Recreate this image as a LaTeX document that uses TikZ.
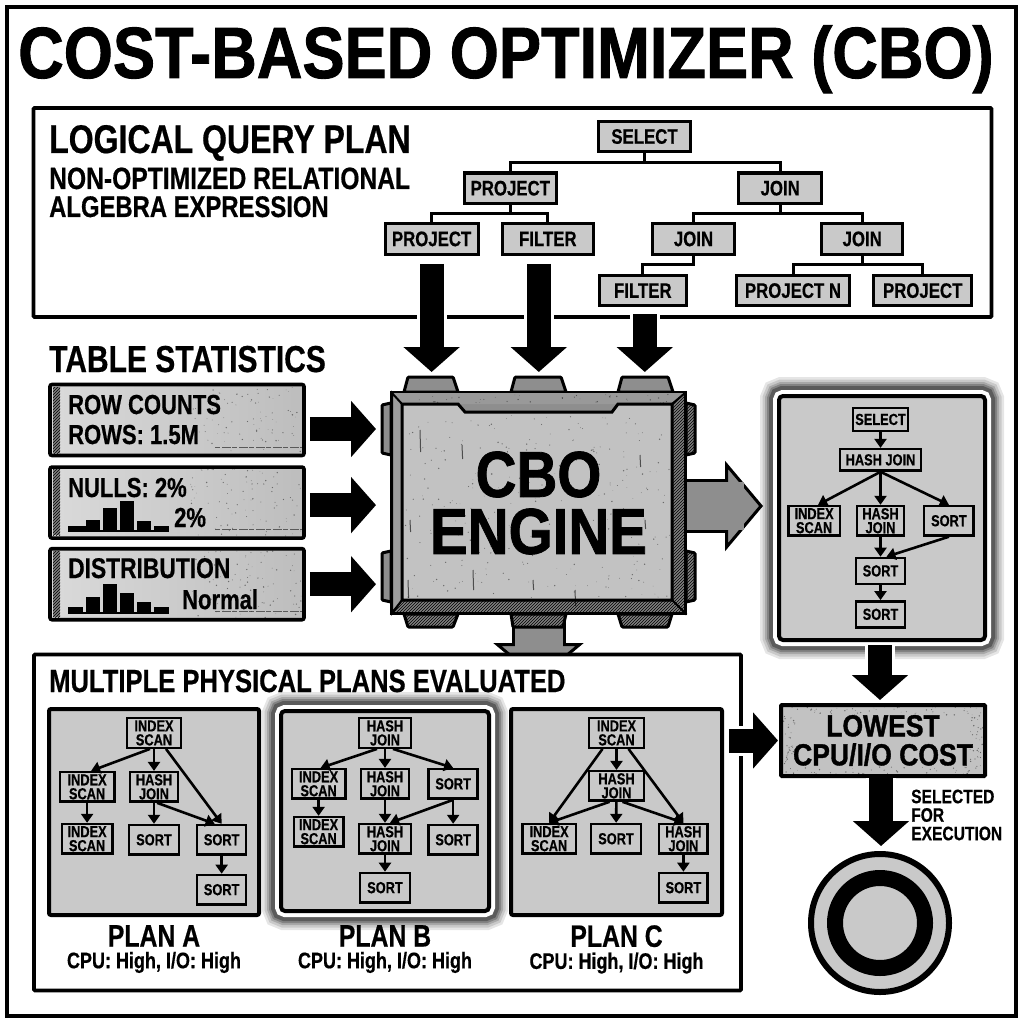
\documentclass[tikz,border=0pt]{standalone}
\usepackage{fontspec}
\setmainfont{Liberation Sans}[FakeStretch=0.8,BoldFeatures={FakeBold=0.5}]
\newfontfamily\heavyfont{Liberation Sans Bold}[FakeStretch=0.87,FakeBold=1.2]
\usetikzlibrary{arrows.meta, positioning, patterns}
\newcommand{\sized}[1]{\fontsize{#1}{#1}\selectfont\bfseries}
\newcommand{\speckle}[5]{%
  \foreach \i in {1,...,#5}{%
    \pgfmathsetmacro{\sx}{#1+rnd*(#3-#1)}%
    \pgfmathsetmacro{\sy}{#2+rnd*(#4-#2)}%
    \pgfmathsetmacro{\sr}{0.25+rnd*0.55}%
    \fill[black,fill opacity=0.45] (\sx,\sy) circle (\sr);
  }}

\begin{document}
\begin{tikzpicture}[
    x=1pt, y=-1pt,
    treebox/.style={rectangle, draw, line width=3.2pt, fill=boxgray, inner sep=0pt, minimum height=30.5pt, font=\sized{21}},
    opbox/.style={rectangle, draw, line width=2.4pt, fill=boxgray, inner sep=0pt, align=center, minimum height=29.5pt, font=\fontsize{16}{14}\selectfont\bfseries},
    planframe/.style={rectangle, draw, line width=4pt, fill=boxgray, rounded corners=2pt},
    glowing/.style={planframe, rounded corners=4pt,
        preaction={draw=black, draw opacity=.10, line width=38pt},
        preaction={draw=black, draw opacity=.12, line width=33pt},
        preaction={draw=black, draw opacity=.16, line width=28pt},
        preaction={draw=black, draw opacity=.22, line width=24pt},
        preaction={draw=black, draw opacity=.30, line width=20pt},
        preaction={draw=white, line width=12pt}},
    panel/.style={rectangle, draw, line width=3.6pt, fill=white, rounded corners=1pt},
    statbox/.style={rectangle, draw, line width=3.6pt, rounded corners=2pt, left color=boxlight, right color=boxdark, minimum width=254pt, minimum height=71pt},
    heading/.style={anchor=base west, inner sep=0pt},
    flow/.style={-{Triangle[length=9pt,width=12pt]}, line width=2.6pt},
    tree/.style={line width=3pt},
    bigarrow/.style={-{Triangle[length=25pt,width=55pt]}, line width=24pt, preaction={draw=white, line width=30pt, -}},
    greyarrow/.style={-{Triangle[length=38pt,width=90pt,fill=arrowgray,line width=3pt]}, draw=black, line width=3pt,
        preaction={draw=black, line width=54pt, -, shorten >=37pt},
        postaction={draw=arrowgray, line width=48pt, -, shorten >=33pt}},
    lug/.style={draw, line width=3pt, fill=arrowgray, rounded corners=1pt},
    hatched/.style={fill=black!50, postaction={pattern=north east lines, pattern color=black}},
    bar/.style={fill=black}
]
    \definecolor{boxgray}{HTML}{C9C9C9}
    \definecolor{boxlight}{HTML}{DADADA}
    \definecolor{boxdark}{HTML}{BDBDBD}
    \definecolor{arrowgray}{HTML}{8E8E8E}
    \definecolor{facegray}{HTML}{C2C2C2}
    \pgfmathsetseed{11}
    \useasboundingbox (0,0) rectangle (1024,1024);
    \fill[white] (0,0) rectangle (1024,1024);

    % Title and outer frame
    \node[draw, line width=4pt, minimum width=1009pt, minimum height=1009pt, inner sep=0pt] (page) at (511.5,511.5) {};
    \node[heading, font=\heavyfont\fontsize{72.6}{72.6}\selectfont] (title) at (18,78) {COST-BASED OPTIMIZER (CBO)};

    % Logical query plan
    \node[panel, minimum width=958pt, minimum height=209pt] (logical) at (512.5,212.5) {};
    \node[heading, font=\sized{40}] (logicaltitle) at (49,153) {LOGICAL QUERY PLAN};
    \node[heading, font=\sized{30.8}] (logicalsuba) at (49,189) {NON-OPTIMIZED RELATIONAL};
    \node[heading, font=\sized{29.8}] (logicalsubb) at (49,217) {ALGEBRA EXPRESSION};

    \node[treebox, minimum width=92pt] (select) at (644.5,136.5) {SELECT};
    \node[treebox, minimum width=92pt, below left=18pt and 39pt of select] (projmid) {PROJECT};
    \node[treebox, minimum width=83pt, below right=18pt and 45pt of select] (joinmid) {JOIN};
    \node[treebox, minimum width=93pt, below left=17pt and -17pt of projmid] (projl) {PROJECT};
    \node[treebox, minimum width=91pt, right=21pt of projl] (filterl) {FILTER};
    \node[treebox, minimum width=82pt, below left=17pt and 1pt of joinmid] (joinl) {JOIN};
    \node[treebox, minimum width=81pt, right=84pt of joinl] (joinr) {JOIN};
    \node[treebox, minimum width=87pt, below left=18pt and -37pt of joinl] (filterb) {FILTER};
    \node[treebox, minimum width=113pt, below left=18pt and -31pt of joinr] (projn) {PROJECT N};
    \node[treebox, minimum width=98pt, right=21pt of projn] (projr) {PROJECT};

    \draw[tree] (select.south) -- ++(0,9) -| (projmid.north);
    \draw[tree] (select.south) -- ++(0,9) -| (joinmid.north);
    \draw[tree] (projmid.south) -- ++(0,8) -| (projl.north);
    \draw[tree] (projmid.south) -- ++(0,8) -| (filterl.north);
    \draw[tree] (joinmid.south) -- ++(0,8) -| (joinl.north);
    \draw[tree] (joinmid.south) -- ++(0,8) -| (joinr.north);
    \draw[tree] (joinl.south) -- ++(0,9) -| (filterb.north);
    \draw[tree] (joinr.south) -- ++(0,9) -| (projn.north);
    \draw[tree] (joinr.south) -- ++(0,9) -| (projr.north);

    % Table statistics
    \node[heading, font=\sized{37.5}] (stattitle) at (49,372) {TABLE STATISTICS};
    \node[statbox] (rowstat) at (177,420) {};
    \node[statbox, below=8pt of rowstat] (nullstat) {};
    \node[statbox, below=7pt of nullstat] (diststat) {};
    \foreach \y in {387,469,551} {
        \draw[hatched, draw=none] (53,\y) rectangle (60,\y+66);
        \draw[black!65, line width=1pt, dash pattern=on 5pt off 2pt on 9pt off 1pt] (215,\y+60) -- (302,\y+60);
    }
    \speckle{190}{387}{302}{453}{90}
    \speckle{190}{469}{302}{536}{90}
    \speckle{190}{551}{302}{618}{90}
    \node[heading, font=\sized{27.5}] (rowsa) at (68,414) {ROW COUNTS};
    \node[heading, font=\sized{27.5}] (rowsb) at (68,444) {ROWS: 1.5M};
    \node[heading, font=\sized{27.5}] (nulla) at (68,497) {NULLS: 2\%};
    \node[heading, font=\sized{27.5}] (nullb) at (174,527) {2\%};
    \node[heading, font=\sized{28.5}] (dista) at (68,578) {DISTRIBUTION};
    \node[heading, font=\sized{27.5}] (distb) at (182,609) {Normal};
    \foreach \a/\b/\t in {68/85.5/525.5, 85.5/100/520, 103/117/508, 120/134/501, 137/151/521, 154/169/526} {
        \fill[bar] (\a,531) rectangle (\b,\t);
    }
    \fill[bar] (68,529.5) rectangle (169,531.5);
    \foreach \a/\b/\t in {68/83/607, 86/100/597, 103/117/584, 120/134/593, 137/151/602, 154/169/607} {
        \fill[bar] (\a,613) rectangle (\b,\t);
    }
    \fill[bar] (68,611.5) rectangle (169,613.5);

    % Engine
    \coordinate (downtip) at (538.5,681);
    \draw[lug] (408,377) -- (453,377) -- (458,392) -- (404,392) -- cycle;
    \draw[lug] (515,377) -- (561,377) -- (566,392) -- (511,392) -- cycle;
    \draw[lug] (622,377) -- (668,377) -- (673,392) -- (618,392) -- cycle;
    \draw[lug, hatched] (404,614) -- (458,614) -- (453,627) -- (408,627) -- cycle;
    \draw[lug, hatched] (618,614) -- (672,614) -- (668,627) -- (622,627) -- cycle;
    \draw[lug] (391,403) -- (382,405) -- (382,453) -- (391,455) -- cycle;
    \draw[lug] (391,551) -- (382,553) -- (382,600) -- (391,602) -- cycle;
    \draw[lug, hatched] (686,403) -- (695,405) -- (695,453) -- (686,455) -- cycle;
    \draw[lug, hatched] (686,551) -- (695,553) -- (695,600) -- (686,602) -- cycle;
    \node[rectangle, draw, line width=4pt, fill=arrowgray, minimum width=293pt, minimum height=220pt] (engine) at (538.5,503) {};
    \draw[greyarrow] (engine.south) -- (downtip);
    \draw[lug, hatched] (511,614) -- (566,614) -- (563,627) -- (513,627) -- cycle;
    \fill[black!40] (392,393) -- (685,393) -- (672,404) -- (402,404) -- cycle;
    \draw[hatched, line width=2pt, draw=black] (685,393) -- (672,404) -- (672,600) -- (685,613) -- cycle;
    \draw[hatched, line width=2pt, draw=black] (392,613) -- (402,600) -- (672,600) -- (685,613) -- cycle;
    \draw[line width=2pt, fill=black!38] (392,393) -- (402,404) -- (402,600) -- (392,613) -- cycle;
    \draw[line width=3pt, fill=facegray] (402,404) -- (458,404) -- (465,412) -- (612,412) -- (618,404) -- (672,404) -- (672,600) -- (402,600) -- cycle;
    \speckle{404}{414}{670}{598}{300}
    \speckle{404}{394}{670}{403}{40}
    \foreach \x/\y/\l in {420/430/22, 462/445/14, 410/520/12, 408/580/18, 473/570/20, 575/590/16, 640/455/12, 533/580/10, 645/520/9} {
        \draw[black, line width=1pt, opacity=.6] (\x,\y) -- ++(0.6,\l);
    }
    \node[inner sep=0pt, align=center, font=\heavyfont\fontsize{65}{57}\selectfont] (enginelabel) at (engine.center) {CBO\\ENGINE};

    % Chosen plan
    \node[glowing, minimum width=206pt, minimum height=244pt] (bestplan) at (882,518) {};
    \node[opbox, minimum width=54.5pt, minimum height=22.5pt, below=13pt of bestplan.north, xshift=-1.5pt] (pselect) {SELECT};
    \node[opbox, minimum width=80.5pt, minimum height=21.5pt, below=16pt of pselect] (phash) {HASH JOIN};
    \node[opbox, minimum width=51.5pt, below left=33pt and -2pt of phash] (pindex) {INDEX\\SCAN};
    \node[opbox, minimum width=46.5pt, right=15pt of pindex] (pjoin) {HASH\\JOIN};
    \node[opbox, minimum width=49.5pt, right=18pt of pjoin] (psortr) {SORT};
    \node[opbox, minimum width=49.5pt, minimum height=26pt, below=20pt of pjoin] (psorta) {SORT};
    \node[opbox, minimum width=49.5pt, minimum height=26pt, below=15pt of psorta] (psortb) {SORT};
    \draw[flow] (pselect) -- (phash);
    \draw[flow] (phash.south) -- ([xshift=4pt]pindex.north);
    \draw[flow] (phash.south) -- (pjoin.north);
    \draw[flow] (phash.south) -- (psortr.north);
    \draw[flow] (pjoin) -- (psorta);
    \draw[flow] (psortr.south) -- ([xshift=6pt]psorta.north);
    \draw[flow] (psorta) -- (psortb);
    \draw[greyarrow, shorten >=14pt] (engine.east |- 0,506) -- (bestplan.west |- 0,506);

    % Physical plans
    \node[panel, minimum width=707pt, minimum height=336pt] (physical) at (387.5,822.5) {};
    \node[heading, font=\sized{32}] (physicaltitle) at (49,692) {MULTIPLE PHYSICAL PLANS EVALUATED};
    \node[glowing, minimum width=208pt, minimum height=200pt] (planb) at (385,811) {};
    \node[planframe, minimum width=210pt, minimum height=206pt] (plana) at (154,812) {};
    \node[planframe, minimum width=211pt, minimum height=206pt] (planc) at (616.5,812) {};

    % Plan A
    \node[opbox, minimum width=54.5pt, below=10pt of plana.north] (aa) {INDEX\\SCAN};
    \node[opbox, minimum width=54.5pt, below left=22pt and 10pt of aa] (ab) {INDEX\\SCAN};
    \node[opbox, minimum width=48.5pt, right=13pt of ab] (ac) {HASH\\JOIN};
    \node[opbox, minimum width=50.5pt, below=20pt of ab] (ad) {INDEX\\SCAN};
    \node[opbox, minimum width=49.5pt, below=21pt of ac] (ae) {SORT};
    \node[opbox, minimum width=49pt, right=16pt of ae] (af) {SORT};
    \node[opbox, minimum width=49pt, below=18pt of af] (ag) {SORT};
    \draw[flow] ([xshift=-4pt]aa.south) -- ([xshift=4pt]ab.north);
    \draw[flow] (aa) -- (ac);
    \draw[flow] ([xshift=12pt]aa.south) -- (af.north);
    \draw[flow] (ab) -- (ad);
    \draw[flow] (ac) -- (ae);
    \draw[flow] ([xshift=3pt]ac.south) -- ([xshift=-7pt]af.north);
    \draw[flow] (af) -- (ag);
    \node[inner sep=0pt, font=\sized{31}, below=8pt of plana] (namea) {PLAN A};
    \node[inner sep=0pt, font=\sized{22.5}, below=5pt of namea] (costa) {CPU: High, I/O: High};

    % Plan B
    \node[opbox, minimum width=52.5pt, below=8pt of planb.north] (ba) {HASH\\JOIN};
    \node[opbox, minimum width=53.5pt, below left=19pt and 11pt of ba] (bb) {INDEX\\SCAN};
    \node[opbox, minimum width=48.5pt, right=13pt of bb] (bc) {HASH\\JOIN};
    \node[opbox, minimum width=49pt, right=17pt of bc] (bd) {SORT};
    \node[opbox, minimum width=49.5pt, below=16pt of bb] (be) {INDEX\\SCAN};
    \node[opbox, minimum width=51.5pt, below=23pt of bc] (bf) {HASH\\JOIN};
    \node[opbox, minimum width=49pt, below=24pt of bd] (bg) {SORT};
    \node[opbox, minimum width=49.5pt, below=17pt of bf] (bh) {SORT};
    \draw[flow] ([xshift=-8pt]ba.south) -- ([xshift=2pt]bb.north);
    \draw[flow] (ba) -- (bc);
    \draw[flow] ([xshift=8pt]ba.south) -- (bd.north);
    \draw[flow] (bb) -- (be);
    \draw[flow] (bc) -- (bf);
    \draw[flow] (bd.south) -- ([xshift=5pt]bf.north);
    \draw[flow] (bd) -- (bg);
    \draw[flow] (bf) -- (bh);
    \node[inner sep=0pt, font=\sized{31}, below=12pt of planb] (nameb) {PLAN B};
    \node[inner sep=0pt, font=\sized{22.5}, below=5pt of nameb] (costb) {CPU: High, I/O: High};

    % Plan C
    \node[opbox, minimum width=54.5pt, below=10pt of planc.north] (ca) {INDEX\\SCAN};
    \node[opbox, minimum width=54.5pt, below=21pt of ca] (cb) {HASH\\JOIN};
    \node[opbox, minimum width=53.5pt, below left=21pt and 11pt of cb] (cc) {INDEX\\SCAN};
    \node[opbox, minimum width=49.5pt, right=13pt of cc] (cd) {SORT};
    \node[opbox, minimum width=48.5pt, right=16pt of cd] (ce) {HASH\\JOIN};
    \node[opbox, minimum width=48.5pt, below=17pt of ce] (cf) {SORT};
    \draw[flow] (ca) -- (cb);
    \draw[flow] ([xshift=-14pt]ca.south) -- (cc.north);
    \draw[flow] ([xshift=12pt]ca.south) -- (ce.north);
    \draw[flow] ([xshift=-7pt]cb.south) -- (cc.north);
    \draw[flow] (cb) -- (cd);
    \draw[flow] ([xshift=6pt]cb.south) -- (ce.north);
    \draw[flow] (ce) -- (cf);
    \node[inner sep=0pt, font=\sized{31}, below=8pt of planc] (namec) {PLAN C};
    \node[inner sep=0pt, font=\sized{22.5}, below=5pt of namec] (costc) {CPU: High, I/O: High};

    % Lowest cost and target
    \node[rectangle, draw, line width=4pt, rounded corners=1pt, fill=facegray, inner sep=0pt, minimum width=204pt, minimum height=71pt] (lowest) at (883,740.5) {};
    \speckle{785}{707}{981}{716}{50}
    \speckle{785}{767}{981}{775}{50}
    \speckle{783}{716}{795}{767}{35}
    \speckle{970}{716}{983}{767}{35}
    \node[inner sep=0pt, align=center, font=\heavyfont\fontsize{30.5}{29}\selectfont] (lowestlabel) at (lowest.center) {LOWEST\\CPU/I/O COST};
    \node[circle, draw, line width=6pt, fill=boxgray, inner sep=0pt, minimum size=138pt] (target) at (880,923) {};
    \node[circle, draw, line width=16pt, fill=boxgray, inner sep=0pt, minimum size=90pt] (targetring) at (target.center) {};
    \node[anchor=west, inner sep=0pt, align=left, font=\fontsize{19.5}{18.5}\selectfont\bfseries] (selected) at (911,815) {SELECTED\\FOR\\EXECUTION};

    % Connections
    \draw[bigarrow, shorten <=8pt, shorten >=19pt] (projl.south) -- (projl.south |- engine.north);
    \draw[bigarrow, shorten <=8pt, shorten >=19pt] ([xshift=-9pt]filterl.south) -- ([xshift=-9pt]filterl.south |- engine.north);
    \draw[bigarrow, shorten <=7pt, shorten >=19pt] ([xshift=2pt]filterb.south) -- ([xshift=2pt]filterb.south |- engine.north);
    \draw[bigarrow, shorten <=4pt, shorten >=14pt] ([yshift=-9pt]rowstat.east) -- ([yshift=-9pt]rowstat.east -| engine.west);
    \draw[bigarrow, shorten <=4pt, shorten >=14pt] ([yshift=-2.5pt]nullstat.east) -- ([yshift=-2.5pt]nullstat.east -| engine.west);
    \draw[bigarrow, shorten <=4pt, shorten >=14pt] (diststat.east) -- (diststat.east -| engine.west);
    \draw[bigarrow, shorten >=1pt] ([xshift=-14pt]physical.east |- lowest.west) -- (lowest.west);
    \draw[bigarrow, shorten <=3pt, shorten >=3pt] ([xshift=-2pt]bestplan.south) -- ([xshift=-2pt]bestplan.south |- lowest.north);
    \draw[bigarrow, shorten >=5pt] ([xshift=-2pt]lowest.south) -- ([xshift=-2pt]lowest.south |- target.north);

\end{tikzpicture}
\end{document}
